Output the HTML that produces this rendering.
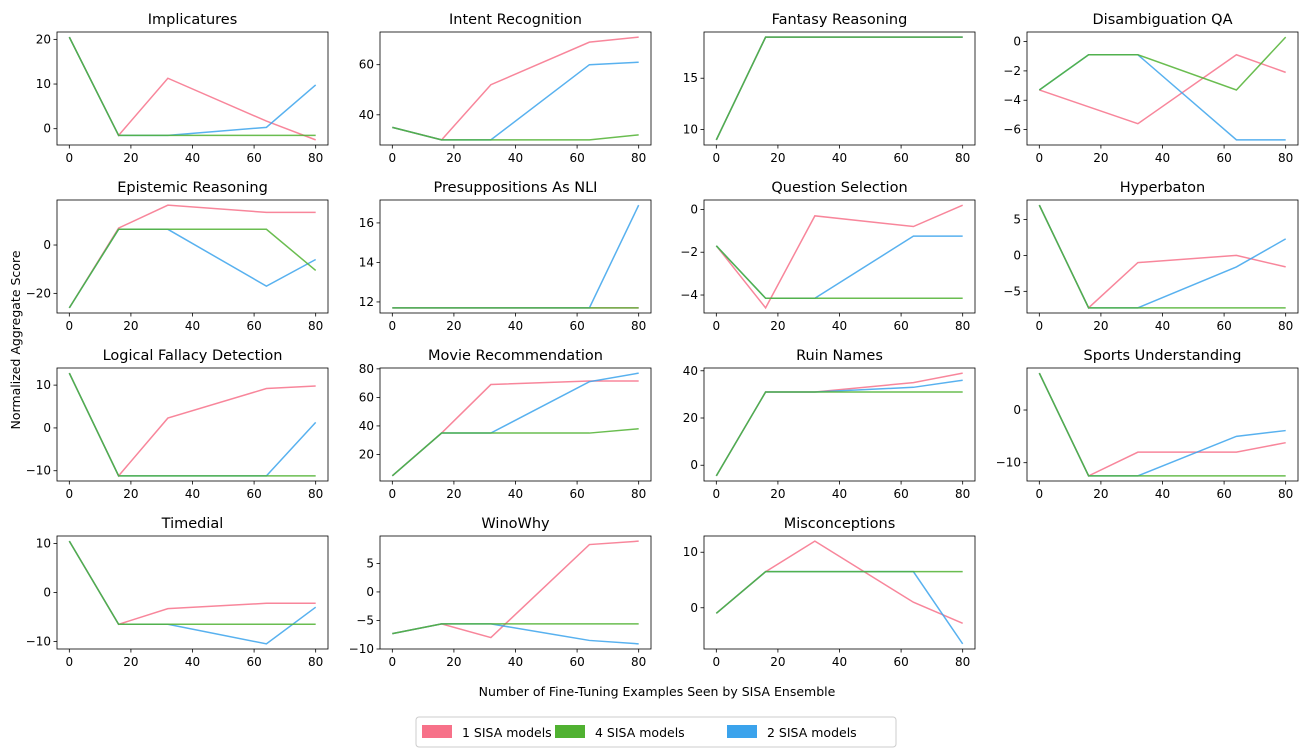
<!DOCTYPE html>
<html><head><meta charset="utf-8"><style>
body{margin:0;background:#fff;}
svg{display:block;font-family:"DejaVu Sans","Liberation Sans",sans-serif;}
</style></head><body>
<svg id="fig" width="1307" height="755" viewBox="0 0 1307 755" xmlns="http://www.w3.org/2000/svg">
<text x="0" y="0" transform="translate(20,340) rotate(-90)" text-anchor="middle" font-size="12.5">Normalized Aggregate Score</text>
<text x="657" y="696" text-anchor="middle" font-size="12.5">Number of Fine-Tuning Examples Seen by SISA Ensemble</text>
<g>
<rect x="416" y="717" width="480" height="30" rx="3" fill="#fff" stroke="#ccc"/>
<g><rect x="422" y="725" width="30" height="13" fill="#f77189"/><text x="462" y="737" font-size="12.5">1 SISA models</text></g>
<g><rect x="555" y="725" width="30" height="13" fill="#50b131"/><text x="595" y="737" font-size="12.5">4 SISA models</text></g>
<g><rect x="727" y="725" width="30" height="13" fill="#3ba3ec"/><text x="767" y="737" font-size="12.5">2 SISA models</text></g>
</g>
</svg>
<script>
const xValues = [0, 16, 32, 64, 80];
const xTicks = [0, 20, 40, 60, 80];
const titles = ["Implicatures","Intent Recognition","Fantasy Reasoning","Disambiguation QA","Epistemic Reasoning","Presuppositions As NLI","Question Selection","Hyperbaton","Logical Fallacy Detection","Movie Recommendation","Ruin Names","Sports Understanding","Timedial","WinoWhy","Misconceptions"];
const series1 = [[20.5,-1.5,11.3,1.7,-2.5],[35,30,52,69,71],[9,19,19,19,19],[-3.3,-4.45,-5.6,-0.9,-2.1],[-26,7,16.5,13.5,13.5],[11.7,11.7,11.7,11.7,11.7],[-1.7,-4.6,-0.3,-0.8,0.2],[7,-7.3,-1,0,-1.6],[12.8,-11.2,2.3,9.2,9.8],[5,35,69,71.5,71.5],[-4.5,31,31,35,39],[7,-12.5,-8,-8,-6.2],[10.5,-6.5,-3.3,-2.2,-2.2],[-7.3,-5.6,-8,8.3,8.9],[-1,6.5,12,1,-2.8]];
const series4 = [[20.5,-1.5,-1.5,-1.5,-1.5],[35,30,30,30,32],[9,19,19,19,19],[-3.3,-0.9,-0.9,-3.3,0.3],[-26,6.5,6.5,6.5,-10.5],[11.7,11.7,11.7,11.7,11.7],[-1.7,-4.15,-4.15,-4.15,-4.15],[7,-7.3,-7.3,-7.3,-7.3],[12.8,-11.2,-11.2,-11.2,-11.2],[5,35,35,35,38],[-4.5,31,31,31,31],[7,-12.5,-12.5,-12.5,-12.5],[10.5,-6.5,-6.5,-6.5,-6.5],[-7.3,-5.6,-5.6,-5.6,-5.6],[-1,6.5,6.5,6.5,6.5]];
const series2 = [[20.5,-1.5,-1.5,0.3,9.8],[35,30,30,60,61],[9,19,19,19,19],[-3.3,-0.9,-0.9,-6.7,-6.7],[-26,6.5,6.5,-17,-6],[11.7,11.7,11.7,11.7,16.9],[-1.7,-4.15,-4.15,-1.25,-1.25],[7,-7.3,-7.3,-1.6,2.3],[12.8,-11.2,-11.2,-11.2,1.3],[5,35,35,71,77],[-4.5,31,31,33,36],[7,-12.5,-12.5,-5,-3.9],[10.5,-6.5,-6.5,-10.5,-3],[-7.3,-5.6,-5.6,-8.5,-9.1],[-1,6.5,6.5,6.5,-6.5]];
const yTicks = [[0,10,20],[40,60],[10,15],[-6,-4,-2,0],[-20,0],[12,14,16],[-4,-2,0],[-5,0,5],[-10,0,10],[20,40,60,80],[0,20,40],[-10,0],[-10,0,10],[-10,-5,0,5],[0,10]];

const NS = "http://www.w3.org/2000/svg";
const svg = document.getElementById("fig");
const colL = [57, 380, 704, 1027], colW = 271;
const rowT = [32, 200, 368, 536], rowH = 113;
function mk(tag, attrs, parent){const e=document.createElementNS(NS,tag);for(const k in attrs)e.setAttribute(k,attrs[k]);parent.appendChild(e);return e;}
function fmt(v){return v<0?"\u2212"+Math.abs(v):String(v);}
const colors=["#f77189","#3ba3ec","#50b131"];
const names=["line-1-sisa","line-2-sisa","line-4-sisa"];
titles.forEach((t,i)=>{
  const L=colL[i%4], T=rowT[Math.floor(i/4)];
  const g=mk("g",{},svg);
  
  
  const all=series1[i].concat(series2[i],series4[i]);
  let mn=Math.min(...all), mx=Math.max(...all); const r=(mx-mn)||1;
  mn-=0.05*r; mx+=0.05*r;
  const xs=v=>L+(v+4)/88*colW;
  const ys=v=>T+rowH-(v-mn)/(mx-mn)*rowH;
  const tt=mk("text",{x:L+colW/2,y:T-8,"text-anchor":"middle","font-size":"14.5"},g); tt.textContent=t;
  
  
  xTicks.forEach(v=>{const x=xs(v);mk("line",{x1:x,x2:x,y1:T+rowH,y2:T+rowH+3.5,stroke:"#000","stroke-width":0.8},g);
    const tx=mk("text",{x:x,y:T+rowH+17,"text-anchor":"middle","font-size":"12"},g);tx.textContent=v;
    
    });
  yTicks[i].forEach(v=>{const y=ys(v);if(y<T-1||y>T+rowH+1)return;mk("line",{x1:L-3.5,x2:L,y1:y,y2:y,stroke:"#000","stroke-width":0.8},g);
    const ty=mk("text",{x:L-6,y:y+4,"text-anchor":"end","font-size":"12"},g);ty.textContent=fmt(v);
    
    });
  [series1[i],series2[i],series4[i]].forEach((s,k)=>{
    const p=mk("polyline",{points:s.map((v,j)=>xs(xValues[j])+","+ys(v)).join(" "),fill:"none",stroke:colors[k],"stroke-width":1.5,"stroke-opacity":0.85},g);
    
    
  });
  mk("rect",{x:L,y:T,width:colW,height:rowH,fill:"none",stroke:"#000","stroke-width":0.8},g);
});
</script>
</body></html>
